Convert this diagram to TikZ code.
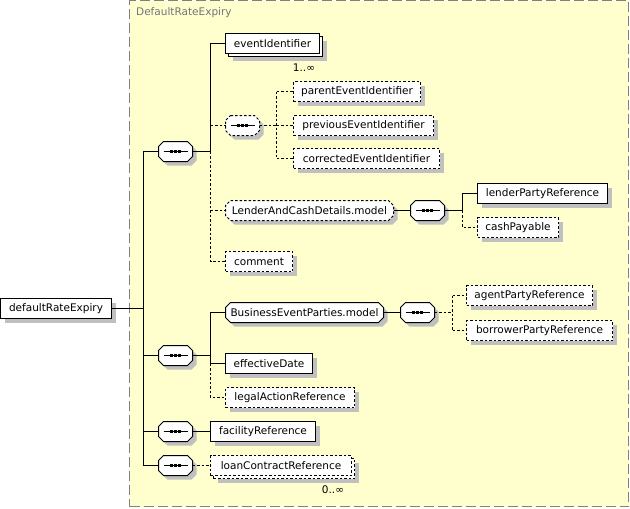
\documentclass[tikz,border=0pt]{standalone}
\usepackage{fontspec}
\setmainfont{DejaVu Sans}
\usetikzlibrary{shadows,calc}
\definecolor{boxyellow}{RGB}{255,255,206}
\definecolor{framegray}{RGB}{128,128,128}
\definecolor{shadowgray}{RGB}{192,192,192}
\definecolor{titlegray}{RGB}{115,115,125}
\pgfdeclarelayer{bottom}
\pgfdeclarelayer{back}
\pgfsetlayers{bottom,back,main}
% octagonal outline round node #1 with corner cut #2, shifted by #3
\newcommand\octpath[3]{($(#1.north west)+(#2+#3,#3)$) -- ($(#1.north east)+(-#2+#3,#3)$) -- ($(#1.north east)+(#3,#2+#3)$) -- ($(#1.south east)+(#3,-#2+#3)$) -- ($(#1.south east)+(-#2+#3,#3)$) -- ($(#1.south west)+(#2+#3,#3)$) -- ($(#1.south west)+(#3,-#2+#3)$) -- ($(#1.north west)+(#3,#2+#3)$) -- cycle}
% shape with shadow
\newcommand\octshape[3][]{%
  \fill[shadowgray] \octpath{#2}{#3}{4};
  \draw[line width=1pt, fill=white, #1] \octpath{#2}{#3}{0};}
% compositor glyph
\newcommand\seqglyph[1]{%
  \draw[line width=1pt] ($(#1.center)+(-12,0)$) -- ($(#1.center)+(12,0)$);
  \foreach \d in {-4,0,4}
    \fill[black] ($(#1.center)+(\d-1.5,-1.5)$) rectangle ($(#1.center)+(\d+1.5,1.5)$);}
\begin{document}
\begin{tikzpicture}[x=1pt,y=-1pt, line width=1pt,
  font=\fontsize{10.5}{12}\selectfont,
  opt/.style={dash pattern=on 2.5pt off 2pt},
  shd/.style={drop shadow={shadow xshift=4pt, shadow yshift=-4pt, fill=shadowgray, opacity=1, draw=none}},
  multi/.style={drop shadow={shadow xshift=7pt, shadow yshift=-7pt, fill=shadowgray, opacity=1, draw=none},
                general shadow={shadow xshift=3pt, shadow yshift=-3pt, fill=white, draw=black, #1}},
  elem/.style={draw, fill=white, rectangle, anchor=north west, inner sep=0pt, outer sep=0pt, minimum height=20pt},
  grp/.style={rectangle, inner sep=0pt, outer sep=0pt, anchor=north west, minimum height=20pt},
  comp/.style={rectangle, minimum width=34pt, minimum height=20pt, inner sep=0pt, outer sep=0pt},
  container/.style={draw=framegray, fill=boxyellow, line width=1pt, dash pattern=on 10pt off 4pt, rectangle, anchor=north west, inner sep=0pt, outer sep=0pt}
]
\useasboundingbox (0,0) rectangle (630,509);

% container
\begin{pgfonlayer}{bottom}
\node[container, minimum width=499pt, minimum height=506pt] (frame) at (129.5,0.5) {};
\end{pgfonlayer}
\node[anchor=west, text=titlegray, inner sep=0pt] (title) at (136,13) {DefaultRateExpiry};

% root
\node[elem, shd, minimum width=111pt] (root) at (0.5,298.5) {defaultRateExpiry};

% compositors of the root
\node[comp] (s1) at (175.5,151.5) {};
\node[comp] (s2) at (175.5,355.5) {};
\node[comp] (s3) at (175.5,431.5) {};
\node[comp] (s4) at (175.5,465.5) {};

% first sequence
\node[elem, multi, minimum width=94pt] (eventId) at (225.5,33.5) {eventIdentifier};
\node[anchor=center, inner sep=0pt] (m1) at (304,67.5) {1..∞};
\node[comp] (s1a) at (242.5,125.5) {};
\node[elem, shd, opt, minimum width=127pt] (parentId) at (293.5,81.5) {parentEventIdentifier};
\node[elem, shd, opt, minimum width=140pt] (prevId) at (293.5,115.5) {previousEventIdentifier};
\node[elem, shd, opt, minimum width=146pt] (corrId) at (293.5,148.5) {correctedEventIdentifier};
\node[grp, minimum width=168pt] (lacd) at (225.5,200.5) {LenderAndCashDetails.model};
\node[comp] (s1b) at (427.5,210.5) {};
\node[elem, shd, minimum width=130pt] (lender) at (477.5,183.5) {lenderPartyReference};
\node[elem, shd, opt, minimum width=81pt] (cash) at (477.5,217.5) {cashPayable};
\node[elem, shd, opt, minimum width=67pt] (comment) at (225.5,251.5) {comment};

% second sequence
\node[grp, minimum width=158pt] (bep) at (225.5,302.5) {BusinessEventParties.model};
\node[comp] (s2a) at (417.5,312.5) {};
\node[elem, shd, opt, minimum width=126pt] (agent) at (466.5,285.5) {agentPartyReference};
\node[elem, shd, opt, minimum width=146pt] (borrower) at (466.5,320.5) {borrowerPartyReference};
\node[elem, shd, minimum width=87pt] (effDate) at (225.5,353.5) {effectiveDate};
\node[elem, shd, opt, minimum width=129pt] (legal) at (225.5,387.5) {legalActionReference};

% third and fourth sequence
\node[elem, shd, minimum width=105pt] (facility) at (210.5,421.5) {facilityReference};
\node[elem, multi={opt}, opt, minimum width=141pt] (loan) at (210.5,455.5) {loanContractReference};
\node[anchor=center, inner sep=0pt] (m2) at (333,490) {0..∞};

% octagonal shapes
\begin{pgfonlayer}{back}
\octshape{s1}{5} \seqglyph{s1}
\octshape{s2}{5} \seqglyph{s2}
\octshape{s3}{5} \seqglyph{s3}
\octshape{s4}{5} \seqglyph{s4}
\octshape[opt]{s1a}{5} \seqglyph{s1a}
\octshape{s1b}{5} \seqglyph{s1b}
\octshape{s2a}{5} \seqglyph{s2a}
\octshape[opt]{lacd}{5}
\octshape{bep}{5}
\end{pgfonlayer}

% junction coordinates
\coordinate (t0) at ($(s1.west)+(-15,0)$);
\coordinate (j1) at ($(s1.east)+(18,0)$);
\coordinate (j1a) at ($(s1a.east)+(17,0)$);
\coordinate (j1b) at ($(s1b.east)+(18,0)$);
\coordinate (j2) at ($(s2.east)+(18,0)$);
\coordinate (j2a) at ($(s2a.east)+(18,0)$);

% root connectors
\draw (root.east) -- (root.east -| t0);
\draw (s1.west) -- (t0) -- (t0 |- s4.west) -- (s4.west);
\draw (t0 |- s2.west) -- (s2.west);
\draw (t0 |- s3.west) -- (s3.west);

% first sequence connectors
\draw (s1.east) -- (j1) -- (j1 |- eventId.west) -- (eventId.west);
\draw[opt] (j1) -- (j1 |- comment.west) -- (comment.west);
\draw[opt] (j1 |- s1a.west) -- (s1a.west);
\draw[opt] (j1 |- lacd.west) -- (lacd.west);
\draw[opt] (s1a.east) -- (j1a);
\draw[opt] (j1a |- parentId.west) -- (j1a |- corrId.west);
\draw[opt] (j1a |- parentId.west) -- (parentId.west);
\draw[opt] (j1a) -- (prevId.west);
\draw[opt] (j1a |- corrId.west) -- (corrId.west);
\draw (lacd.east) -- (s1b.west);
\draw (s1b.east) -- (j1b) -- (j1b |- lender.west) -- (lender.west);
\draw[opt] (j1b) -- (j1b |- cash.west) -- (cash.west);

% second sequence connectors
\draw (s2.east) -- (j2) -- (j2 |- bep.west) -- (bep.west);
\draw (j2) -- (j2 |- effDate.west) -- (effDate.west);
\draw[opt] (j2 |- effDate.west) -- (j2 |- legal.west) -- (legal.west);
\draw (bep.east) -- (s2a.west);
\draw[opt] (s2a.east) -- (j2a);
\draw[opt] (j2a |- agent.west) -- (j2a |- borrower.west);
\draw[opt] (j2a |- agent.west) -- (agent.west);
\draw[opt] (j2a |- borrower.west) -- (borrower.west);

% third and fourth
\draw (s3.east) -- (facility.west);
\draw[opt] (s4.east) -- (loan.west);
\end{tikzpicture}
\end{document}
